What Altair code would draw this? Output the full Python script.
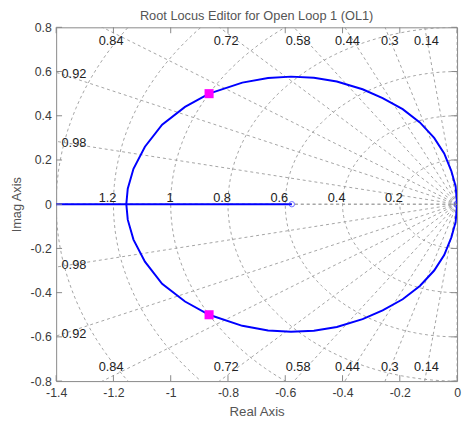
import altair as alt
import numpy as np
import pandas as pd

# ---- data ----
x_ticks = [-1.4, -1.2, -1, -0.8, -0.6, -0.4, -0.2, 0]
y_ticks = [-0.8, -0.6, -0.4, -0.2, 0, 0.2, 0.4, 0.6, 0.8]

zeta_vals = [0.14, 0.3, 0.44, 0.58, 0.72, 0.84, 0.92, 0.98]
wn_vals = [0.2, 0.4, 0.6, 0.8, 1.0, 1.2, 1.4]

wn_label_vals = [0.2, 0.4, 0.6, 0.8, 1, 1.2]
wn_label_text = ["0.2", "0.4", "0.6", "0.8", "1", "1.2"]

zeta_label_text = ["0.84", "0.72", "0.58", "0.44", "0.3", "0.14", "0.92", "0.98"]
zeta_label_x = [-1.208, -0.806, -0.555, -0.383, -0.235, -0.107, -1.338, -1.338]
zeta_label_y = [0.738, 0.738, 0.738, 0.738, 0.738, 0.738, 0.587, 0.276]

# upper branch of the locus (lower branch is its mirror image)
locus_re = [0.0, -0.005, -0.02, -0.045, -0.08, -0.13, -0.19, -0.26, -0.33, -0.42,
            -0.50, -0.58, -0.66, -0.75, -0.866, -0.95, -1.03, -1.09, -1.13, -1.15, -1.155]
locus_im = [0.0, 0.08, 0.15, 0.23, 0.30, 0.37, 0.43, 0.48, 0.52, 0.555,
            0.572, 0.577, 0.571, 0.55, 0.50, 0.44, 0.36, 0.26, 0.16, 0.07, 0.0]

real_branch_re = [-1.6, -0.577]
zero_re = [-0.577]
pole_re = [0.0]
design_re = [-0.866, -0.866]
design_im = [0.5, -0.5]

# ---- build tables ----
FONT = "Liberation Sans"
GRID = "#999999"
BOX = "#888888"

grid_rows = []
R = 2.5
for z in zeta_vals + [1.0, 0.0]:
    s = np.sqrt(1 - z * z)
    for sign in (1, -1):
        key = f"z{z}{sign}"
        grid_rows.append(dict(k=key, o=0, x=0.0, y=0.0))
        grid_rows.append(dict(k=key, o=1, x=-R * z, y=sign * R * s))
ang = np.linspace(np.pi / 2, 3 * np.pi / 2, 91)
for w in wn_vals:
    for i, a in enumerate(ang):
        grid_rows.append(dict(k=f"w{w}", o=i, x=w * np.cos(a), y=w * np.sin(a)))
grid_df = pd.DataFrame(grid_rows)

loc_rows = []
for i, (re, im) in enumerate(zip(locus_re, locus_im)):
    loc_rows.append(dict(b="up", o=i, x=re, y=im))
    loc_rows.append(dict(b="dn", o=i, x=re, y=-im))
for i, re in enumerate(real_branch_re):
    loc_rows.append(dict(b="real", o=i, x=re, y=0.0))
loc_df = pd.DataFrame(loc_rows)

zlab_df = pd.DataFrame(dict(
    t=zeta_label_text * 2,
    x=zeta_label_x * 2,
    y=zeta_label_y + [-v for v in zeta_label_y],
))
wlab_df = pd.DataFrame(dict(t=wn_label_text, x=[-v for v in wn_label_vals], y=[0.012] * len(wn_label_vals)))
zero_df = pd.DataFrame(dict(x=zero_re, y=[0.0]))
pole_df = pd.DataFrame(dict(x=pole_re, y=[0.0]))
design_df = pd.DataFrame(dict(x=design_re, y=design_im))
xt_df = pd.DataFrame(dict(x=x_ticks))
yt_df = pd.DataFrame(dict(y=y_ticks))

xs = alt.Scale(domain=[-1.4, 0], nice=False, zero=False)
ys = alt.Scale(domain=[-0.8, 0.8], nice=False, zero=False)

X = alt.X("x:Q", scale=xs, axis=alt.Axis(
    values=x_ticks, labelExpr="'' + datum.value", ticks=False, domain=False, grid=False,
    labelFlush=False, labelOverlap=False, labelPadding=6, labelFontSize=12.5, labelColor="#3a3a3a",
    labelFont=FONT, title="Real Axis", titleFont=FONT, titleFontSize=13.5, titleFontWeight="normal",
    titleColor="#555", titlePadding=6))
Y = alt.Y("y:Q", scale=ys, axis=alt.Axis(
    values=y_ticks, labelExpr="'' + datum.value", ticks=False, domain=False, grid=False,
    labelOverlap=False, labelPadding=5, labelFontSize=12.5, labelColor="#3a3a3a",
    labelFont=FONT, title="Imag Axis", titleFont=FONT, titleFontSize=13, titleFontWeight="normal",
    titleColor="#555", titlePadding=7))

grid = alt.Chart(grid_df).mark_line(clip=True, color=GRID, strokeWidth=0.9, strokeDash=[3, 3]).encode(
    x=X, y=Y, detail="k:N", order="o:Q")

locus = alt.Chart(loc_df).mark_line(clip=True, color="#0000ff", strokeWidth=2).encode(
    x="x:Q", y="y:Q", detail="b:N", order="o:Q")

zlab = alt.Chart(zlab_df).mark_text(font=FONT, fontSize=13, color="#222", align="center",
                                    baseline="middle").encode(x="x:Q", y="y:Q", text="t:N")
wlab = alt.Chart(wlab_df).mark_text(font=FONT, fontSize=13, color="#222", align="right",
                                    baseline="alphabetic", dx=3).encode(x="x:Q", y="y:Q", text="t:N")

zero = alt.Chart(zero_df).mark_point(shape="circle", filled=False, color="#3333ff", size=30,
                                     strokeWidth=1).encode(x="x:Q", y="y:Q")
pole = alt.Chart(pole_df).mark_point(shape="cross", angle=45, filled=False, color="#3333ff", size=40,
                                     strokeWidth=1, clip=True).encode(x="x:Q", y="y:Q")
design = alt.Chart(design_df).mark_square(color="#ff00ff", size=85, opacity=1).encode(x="x:Q", y="y:Q")

tb = alt.Chart(xt_df).mark_rule(color=BOX, strokeWidth=1).encode(x="x:Q", y=alt.value(360), y2=alt.value(354))
tt = alt.Chart(xt_df).mark_rule(color=BOX, strokeWidth=1).encode(x="x:Q", y=alt.value(0), y2=alt.value(6))
tl = alt.Chart(yt_df).mark_rule(color=BOX, strokeWidth=1).encode(y="y:Q", x=alt.value(0), x2=alt.value(6))
tr = alt.Chart(yt_df).mark_rule(color=BOX, strokeWidth=1).encode(y="y:Q", x=alt.value(408), x2=alt.value(402))

chart = alt.layer(grid, locus, zero, pole, design, zlab, wlab, tb, tt, tl, tr).properties(
    width=408, height=360,
    padding={"left": 49, "top": 16, "right": 5, "bottom": 40},
    autosize=alt.AutoSizeParams(type="none"),
    title=alt.TitleParams("Root Locus Editor for Open Loop 1 (OL1)", font=FONT, fontSize=13,
                          fontWeight="normal", color="#555", offset=-2),
).configure_view(stroke=BOX, strokeWidth=1)

chart.save("out.html", embed_options={"renderer": "svg", "actions": False})
